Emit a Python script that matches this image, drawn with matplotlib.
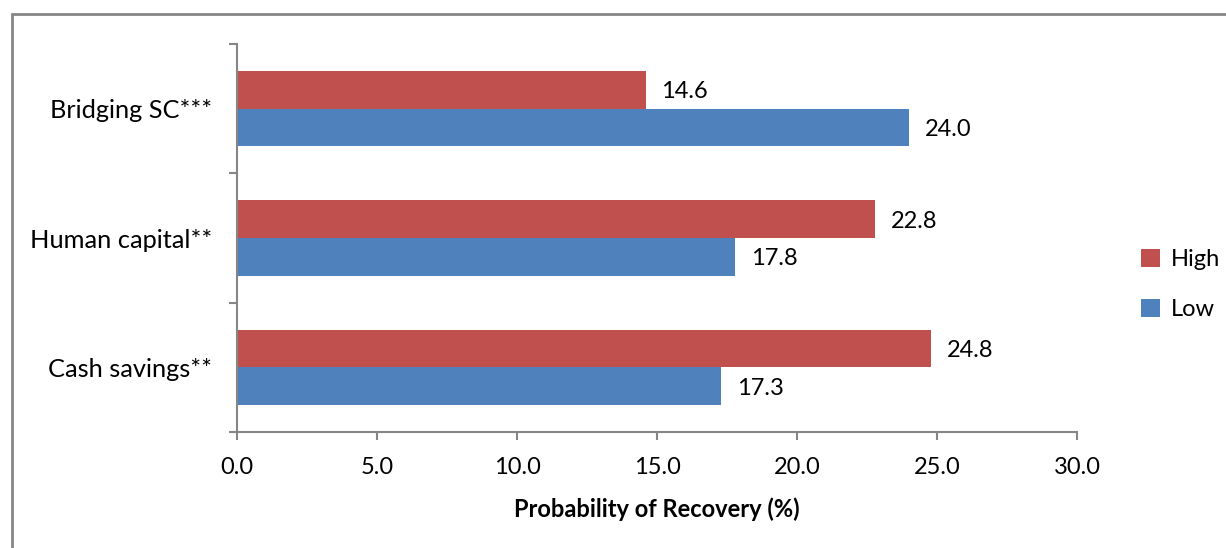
import matplotlib.pyplot as plt
import numpy as np
from matplotlib.patches import Rectangle

categories = ['Cash savings**', 'Human capital**', 'Bridging SC***']
high = [24.8, 22.8, 14.6]
low = [17.3, 17.8, 24.0]

RED = '#C0504D'
BLUE = '#4F81BD'
GRAY = '#868686'
FS = 17

plt.rcParams['font.family'] = ['Lato', 'DejaVu Sans']

fig = plt.figure(figsize=(12.26, 5.48), dpi=100)
ax = fig.add_axes([237 / 1226, 1 - 432 / 548, 840 / 1226, 388 / 548])

# outer chart frame, running off the right and bottom edges
fig.patches.append(Rectangle((12 / 1226, -0.1), 1.2, 1 - 14 / 548 + 0.1,
                             transform=fig.transFigure, fill=False,
                             edgecolor=GRAY, linewidth=2))

y = np.arange(len(categories))
h = 0.29
bars_low = ax.barh(y - h / 2, low, height=h, color=BLUE, label='Low')
bars_high = ax.barh(y + h / 2, high, height=h, color=RED, label='High')

for bars, vals in ((bars_high, high), (bars_low, low)):
    for b, v in zip(bars, vals):
        ax.text(v + 0.55, b.get_y() + b.get_height() / 2 - 0.015, f'{v:.1f}',
                va='center', ha='left', fontsize=FS)

ax.set_xlim(0, 30)
ax.set_ylim(-0.5, 2.5)
ax.set_xticks(np.arange(0, 31, 5))
ax.set_xticklabels([f'{t:.1f}' for t in np.arange(0, 31, 5)], fontsize=FS)
ax.set_yticks(y)
ax.set_yticklabels(categories, fontsize=FS + 1.3)
ax.set_yticks(np.arange(-0.5, 3, 1), minor=True)
ax.tick_params(axis='y', which='major', length=0, pad=18)
ax.tick_params(axis='y', which='minor', length=6, color=GRAY, width=1.5)
ax.tick_params(axis='x', length=6, color=GRAY, width=1.5, pad=12)

for side in ('top', 'right'):
    ax.spines[side].set_visible(False)
for side in ('left', 'bottom'):
    ax.spines[side].set_color(GRAY)
    ax.spines[side].set_linewidth(1.5)

ax.set_xlabel('Probability of Recovery (%)', fontsize=FS, fontweight='bold',
              labelpad=14)

handles = [bars_high, bars_low]
fig.legend(handles, ['High', 'Low'], loc='upper left',
           bbox_to_anchor=(1141 / 1226, 1 - 249 / 548), frameon=False,
           fontsize=FS, borderpad=0, borderaxespad=0,
           handlelength=0.8, handleheight=0.8, labelspacing=1.2,
           handletextpad=0.45)

fig.savefig('out.png', dpi=100)
